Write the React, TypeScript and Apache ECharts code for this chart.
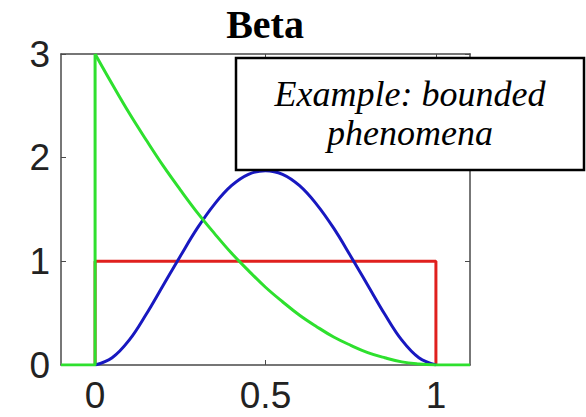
import React, { useEffect, useRef } from "react";
import * as echarts from "echarts";

const titleText = "Beta";
const noteLines = ["Example: bounded", "phenomena"];
const xTicks = [0, 0.5, 1];
const yTicks = [0, 1, 2, 3];
const xGrid = [0, 0.05, 0.1, 0.15, 0.2, 0.25, 0.3, 0.35, 0.4, 0.45, 0.5, 0.55, 0.6, 0.65, 0.7, 0.75, 0.8, 0.85, 0.9, 0.95, 1];
const blueValues = [0, 0.07, 0.24, 0.49, 0.77, 1.05, 1.32, 1.55, 1.73, 1.84, 1.875, 1.84, 1.73, 1.55, 1.32, 1.05, 0.77, 0.49, 0.24, 0.07, 0];
const greenValues = [3, 2.71, 2.43, 2.17, 1.92, 1.69, 1.47, 1.27, 1.08, 0.91, 0.75, 0.61, 0.48, 0.37, 0.27, 0.19, 0.12, 0.07, 0.03, 0.01, 0];
const redX = [0, 0, 1, 1];
const redY = [0, 1, 1, 0];
const greenLeftX = [-0.1, 0, 0];
const greenLeftY = [0, 0, 3];
const greenRightX = [1, 1.1];
const greenRightY = [0, 0];

const GREEN = "#2ee02e";
const BLUE = "#1818c0";
const RED = "#e0201e";
const AXIS = "#4a4a4a";

const zip = (xs: number[], ys: number[]) => xs.map((x, i) => [x, ys[i]]);

export default function App() {
  const ref = useRef<HTMLDivElement>(null);
  useEffect(() => {
    if (!ref.current) return;
    const chart = echarts.init(ref.current, null, { renderer: "svg" });
    const line = (data: number[][], color: string, smooth: boolean | number, z: number) => ({
      type: "line",
      data,
      showSymbol: false,
      smooth,
      lineStyle: { color, width: 3 },
      itemStyle: { color },
      z,
      silent: true,
    });
    const baseX = {
      type: "value",
      min: -0.1,
      max: 1.1,
      splitLine: { show: false },
      axisLine: { show: true, onZero: false, lineStyle: { color: AXIS, width: 1.5 } },
    };
    const baseY = {
      type: "value",
      min: 0,
      max: 3,
      interval: 1,
      splitLine: { show: false },
      axisLine: { show: true, onZero: false, lineStyle: { color: AXIS, width: 1.5 } },
    };
    chart.setOption({
      animation: false,
      backgroundColor: "#ffffff",
      grid: { left: 61, top: 54, width: 409, height: 311, containLabel: false },
      xAxis: [
        {
          ...baseX,
          position: "bottom",
          axisTick: { show: true, inside: true, length: 5, customValues: xTicks, lineStyle: { color: AXIS } },
          axisLabel: {
            customValues: xTicks,
            margin: 12,
            fontFamily: "Liberation Sans",
            fontSize: 37,
            color: "#222",
            formatter: (v: number) => String(v),
          },
        },
        {
          ...baseX,
          position: "top",
          axisTick: { show: true, inside: true, length: 5, customValues: xTicks, lineStyle: { color: AXIS } },
          axisLabel: { show: false },
        },
      ],
      yAxis: [
        {
          ...baseY,
          position: "left",
          axisTick: { show: true, inside: true, length: 5, lineStyle: { color: AXIS } },
          axisLabel: {
            margin: 11,
            fontFamily: "Liberation Sans",
            fontSize: 37,
            color: "#222",
          },
        },
        {
          ...baseY,
          position: "right",
          axisTick: { show: true, inside: true, length: 5, lineStyle: { color: AXIS } },
          axisLabel: { show: false },
        },
      ],
      series: [
        line(zip(redX, redY), RED, false, 2),
        line(zip(xGrid, blueValues), BLUE, 0.4, 3),
        line(zip(greenLeftX, greenLeftY), GREEN, false, 4),
        line(zip(xGrid, greenValues), GREEN, 0.4, 4),
        line(zip(greenRightX, greenRightY), GREEN, false, 4),
      ],
      graphic: [
        {
          type: "text",
          x: 265,
          y: 4,
          z: 100,
          style: {
            text: titleText,
            fontFamily: "Liberation Serif",
            fontWeight: "bold",
            fontSize: 40,
            fill: "#000",
            align: "center",
            verticalAlign: "top",
          },
        },
        {
          type: "rect",
          z: 100,
          shape: { x: 236, y: 58, width: 348, height: 112 },
          style: { fill: "#ffffff", stroke: "#000", lineWidth: 2.5 },
        },
        {
          type: "text",
          x: 410,
          y: 94,
          z: 101,
          style: {
            text: noteLines[0],
            fontFamily: "Liberation Serif",
            fontStyle: "italic",
            fontSize: 36,
            fill: "#000",
            align: "center",
            verticalAlign: "middle",
          },
        },
        {
          type: "text",
          x: 410,
          y: 133,
          z: 101,
          style: {
            text: noteLines[1],
            fontFamily: "Liberation Serif",
            fontStyle: "italic",
            fontSize: 36,
            fill: "#000",
            align: "center",
            verticalAlign: "middle",
          },
        },
      ],
    });
    return () => chart.dispose();
  }, []);
  return (
    <div
      ref={ref}
      style={{ position: "fixed", left: 0, top: 0, width: 586, height: 417, background: "#fff" }}
    />
  );
}
